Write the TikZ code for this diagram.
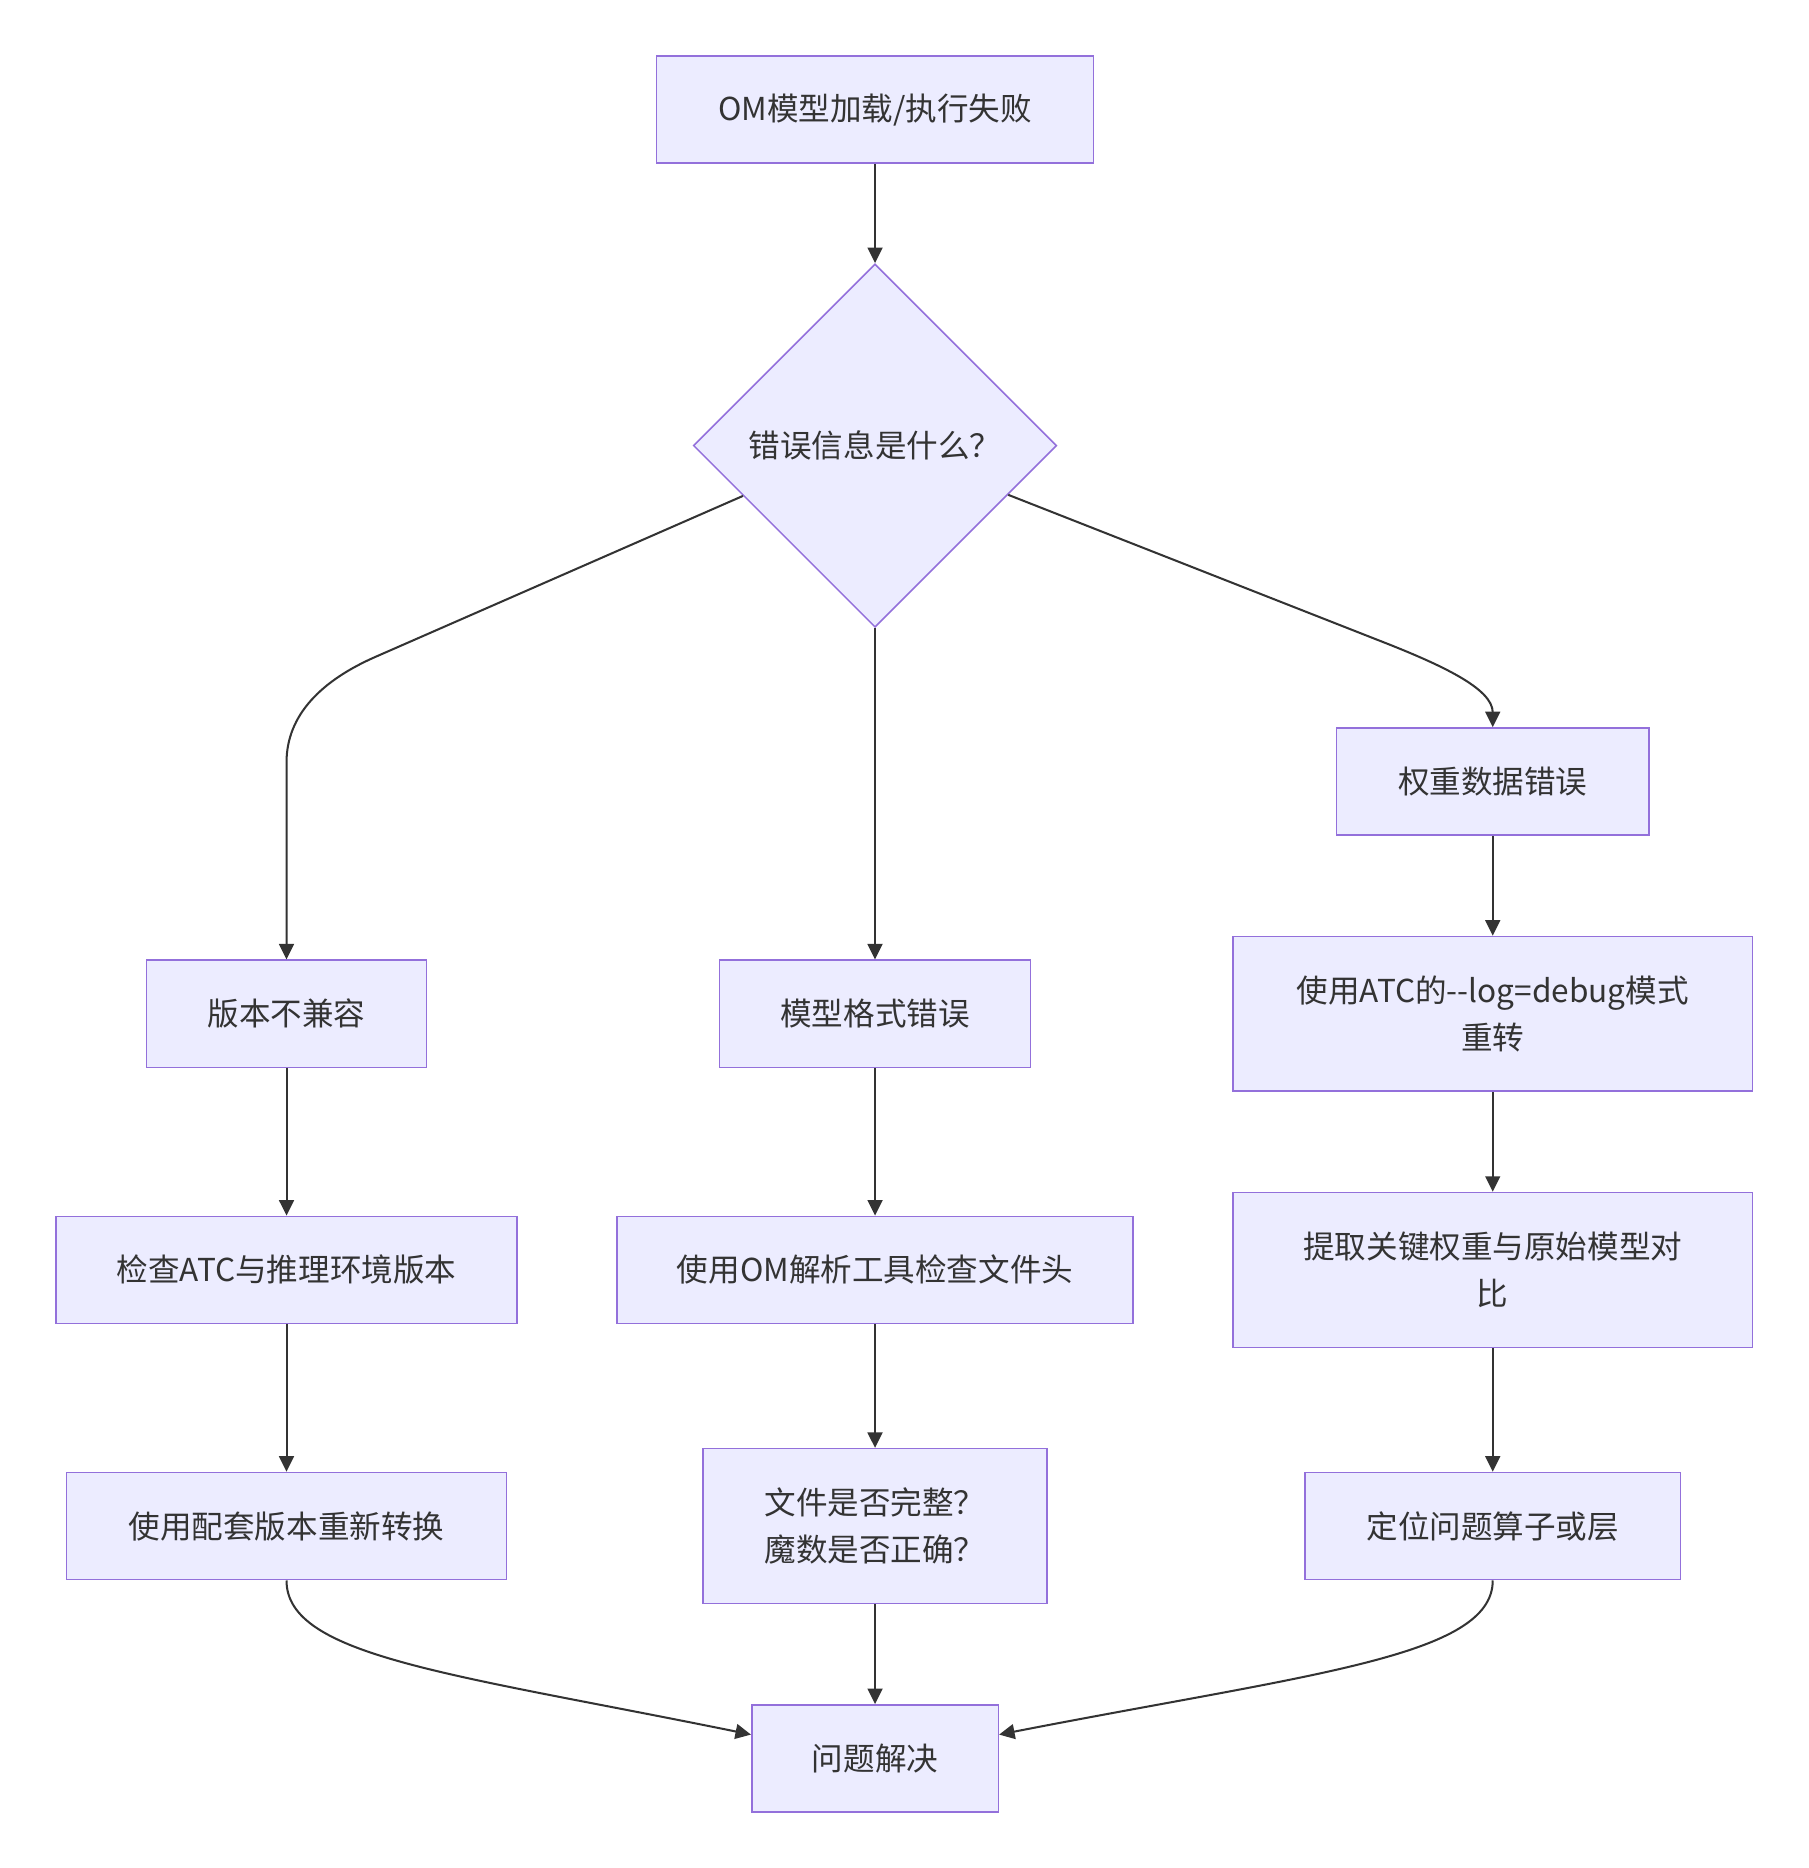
\documentclass[tikz,border=0pt]{standalone}
\usepackage{fontspec}
\setmainfont{Noto Sans CJK SC}
\usetikzlibrary{shapes.geometric,arrows.meta,calc}
\definecolor{nodefill}{HTML}{ECECFF}
\definecolor{nodeborder}{HTML}{9370DB}
\definecolor{edgecol}{HTML}{333333}
\begin{document}
\begin{tikzpicture}[x=1pt,y=-1pt,
  box/.style={draw=nodeborder, fill=nodefill, line width=1.3pt, text=edgecol,
    font=\fontsize{26.5}{39}\selectfont, align=center, inner sep=0pt},
  decision/.style={box, shape=diamond, minimum width=305pt, minimum height=305pt},
  edge/.style={draw=edgecol, line width=1.7pt, -{Triangle[length=13pt,width=12.5pt]}}]
\useasboundingbox (0,0) rectangle (1518,1568);
\fill[white] (0,0) rectangle (1518,1568);

\node[box, minimum width=367pt, minimum height=90pt] (top) at (734.5,92) {OM模型加载/执行失败};
\node[decision] (dia) at (734.5,374) {错误信息是什么？};
\node[box, minimum width=262pt, minimum height=90pt] (w1) at (1253,656) {权重数据错误};
\node[box, minimum width=235pt, minimum height=90pt] (v1) at (240.5,851) {版本不兼容};
\node[box, minimum width=261pt, minimum height=90pt] (m1) at (734.5,851) {模型格式错误};
\node[box, minimum width=436pt, minimum height=130pt] (w2) at (1253,851) {使用ATC的-{}-log=debug模式\\重转};
\node[box, minimum width=387pt, minimum height=90pt] (v2) at (240.5,1066) {检查ATC与推理环境版本};
\node[box, minimum width=433pt, minimum height=90pt] (m2) at (734.5,1066) {使用OM解析工具检查文件头};
\node[box, minimum width=436pt, minimum height=130pt] (w3) at (1253,1066) {提取关键权重与原始模型对\\比};
\node[box, minimum width=369pt, minimum height=90pt] (v3) at (240.5,1281) {使用配套版本重新转换};
\node[box, minimum width=289pt, minimum height=130pt] (m3) at (734.5,1281) {文件是否完整？\\魔数是否正确？};
\node[box, minimum width=315pt, minimum height=90pt] (w4) at (1253,1281) {定位问题算子或层};
\node[box, minimum width=207pt, minimum height=90pt] (fin) at (734.5,1476) {问题解决};

\draw[edge] (top) -- (dia);
\draw[edge] (dia.south) -- (m1);
\draw[edge] ($(dia.west)!0.276!(dia.south)$) -- (316,551)
  .. controls (270,571) and (240.5,600) .. (240.5,640) -- (v1.north);
\draw[edge] ($(dia.east)!0.27!(dia.south)$) -- (1156,537)
  .. controls (1210,558) and (1253,578) .. (1253,598) -- (w1.north);
\draw[edge] (v1) -- (v2);
\draw[edge] (v2) -- (v3);
\draw[edge] (m1) -- (m2);
\draw[edge] (m2) -- (m3);
\draw[edge] (w1) -- (w2);
\draw[edge] (w2) -- (w3);
\draw[edge] (w3) -- (w4);
\draw[edge] (m3) -- (fin);
\draw[edge] (v3.south) .. controls ($(v3.south)+(0,64)$) and (380,1405) .. ($(fin.west)+(0,-20)$);
\draw[edge] (w4.south) .. controls ($(w4.south)+(0,64)$) and (1100,1405) .. ($(fin.east)+(0,-20)$);
\end{tikzpicture}
\end{document}
